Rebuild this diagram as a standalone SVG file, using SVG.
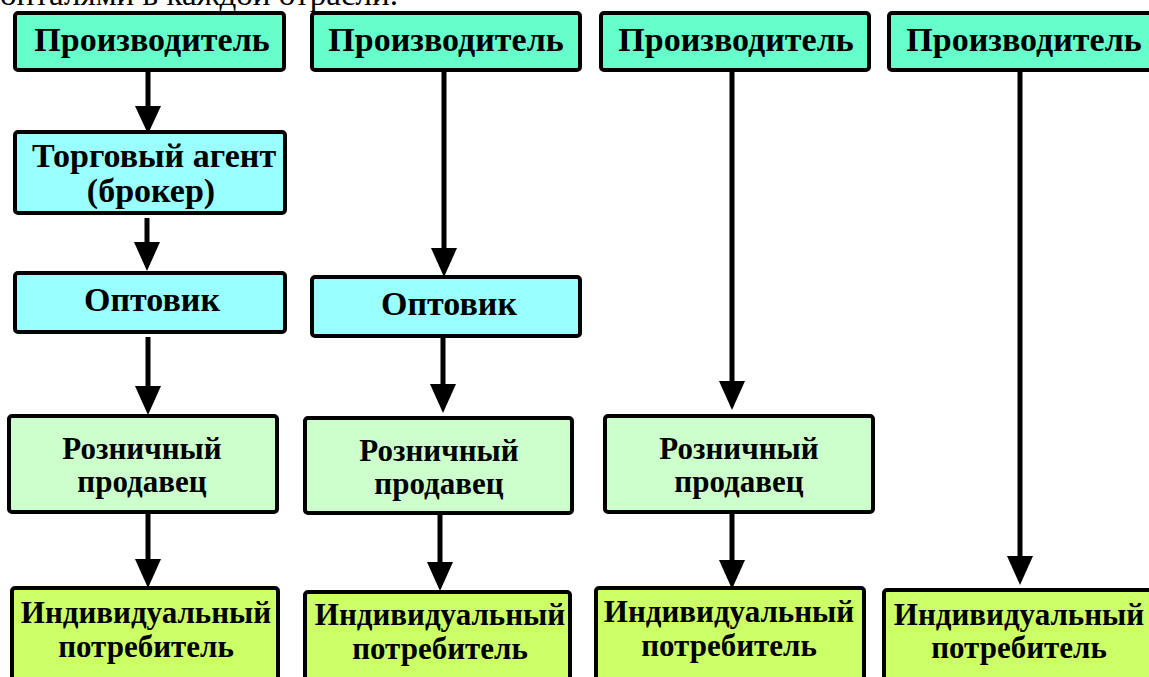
<svg xmlns="http://www.w3.org/2000/svg" width="1149" height="677" viewBox="0 0 1149 677">
<style>
.b{stroke:#000;stroke-width:4;rx:3}
.p{fill:#66FFCC}.w{fill:#99FFFF}.r{fill:#CCFFCC}.c{fill:#CCFF66}
text{font-family:"Liberation Serif","Times New Roman",serif;font-weight:bold;fill:#000;text-anchor:middle}
.t1{font-size:34px}.t2{font-size:34px}.t3{font-size:31px}
.top{font-weight:normal;text-anchor:start;font-size:32px}
.ln{stroke:#000;stroke-width:5;fill:none}
.hd{fill:#000}
</style>
<rect width="1149" height="677" fill="#fff"/>
<text class="top" x="0" y="5" textLength="398" lengthAdjust="spacingAndGlyphs">онталями в каждой отрасли.</text>
<g id="connectors">
<line class="ln" x1="148" y1="70" x2="148" y2="108"/><path class="hd" d="M135,106 L161,106 L148,134 Z"/>
<line class="ln" x1="147" y1="218" x2="147" y2="246"/><path class="hd" d="M134,242 L160,242 L147,271 Z"/>
<line class="ln" x1="148" y1="337" x2="148" y2="390"/><path class="hd" d="M135,386 L161,386 L148,415 Z"/>
<line class="ln" x1="148" y1="512" x2="148" y2="562"/><path class="hd" d="M135,559 L161,559 L148,588 Z"/>
<line class="ln" x1="444" y1="70" x2="444" y2="252"/><path class="hd" d="M431,248 L457,248 L444,277 Z"/>
<line class="ln" x1="443" y1="336" x2="443" y2="388"/><path class="hd" d="M430,384 L456,384 L443,413 Z"/>
<line class="ln" x1="440" y1="513" x2="440" y2="566"/><path class="hd" d="M427,562 L453,562 L440,591 Z"/>
<line class="ln" x1="732" y1="70" x2="732" y2="384"/><path class="hd" d="M719,381 L745,381 L732,410 Z"/>
<line class="ln" x1="732" y1="512" x2="732" y2="564"/><path class="hd" d="M719,560 L745,560 L732,589 Z"/>
<line class="ln" x1="1020" y1="70" x2="1020" y2="560"/><path class="hd" d="M1007,556 L1033,556 L1020,585 Z"/>
</g>
<g id="prod1"><rect class="b p" x="15" y="13" width="269" height="57"/><text class="t1" x="152" y="51">Производитель</text></g>
<g id="prod2"><rect class="b p" x="312" y="13" width="268" height="57"/><text class="t1" x="446" y="51">Производитель</text></g>
<g id="prod3"><rect class="b p" x="601" y="13" width="268" height="57"/><text class="t1" x="736" y="51">Производитель</text></g>
<g id="prod4"><rect class="b p" x="889" y="13" width="268" height="57"/><text class="t1" x="1024" y="51">Производитель</text></g>
<g id="agent1"><rect class="b w" x="15" y="132" width="270" height="81"/><text class="t2" x="154" y="167">Торговый агент</text><text class="t2" x="151" y="202">(брокер)</text></g>
<g id="opt1"><rect class="b w" x="15" y="273" width="270" height="59"/><text class="t2" x="152" y="311">Оптовик</text></g>
<g id="opt2"><rect class="b w" x="312" y="277" width="268" height="59"/><text class="t2" x="449" y="315">Оптовик</text></g>
<g id="ret1"><rect class="b r" x="9" y="416" width="268" height="96"/><text class="t3" x="142" y="459">Розничный</text><text class="t3" x="142" y="492">продавец</text></g>
<g id="ret2"><rect class="b r" x="305" y="418" width="267" height="95"/><text class="t3" x="439" y="461">Розничный</text><text class="t3" x="439" y="494">продавец</text></g>
<g id="ret3"><rect class="b r" x="605" y="416" width="268" height="96"/><text class="t3" x="739" y="459">Розничный</text><text class="t3" x="739" y="492">продавец</text></g>
<g id="cons1"><rect class="b c" x="12" y="588" width="266" height="100"/><text class="t3" x="146" y="623">Индивидуальный</text><text class="t3" x="146" y="657">потребитель</text></g>
<g id="cons2"><rect class="b c" x="305" y="592" width="265" height="100"/><text class="t3" x="440" y="625">Индивидуальный</text><text class="t3" x="440" y="659">потребитель</text></g>
<g id="cons3"><rect class="b c" x="596" y="588" width="268" height="100"/><text class="t3" x="729" y="622">Индивидуальный</text><text class="t3" x="729" y="656">потребитель</text></g>
<g id="cons4"><rect class="b c" x="884" y="590" width="270" height="100"/><text class="t3" x="1019" y="625">Индивидуальный</text><text class="t3" x="1019" y="658">потребитель</text></g>
</svg>
